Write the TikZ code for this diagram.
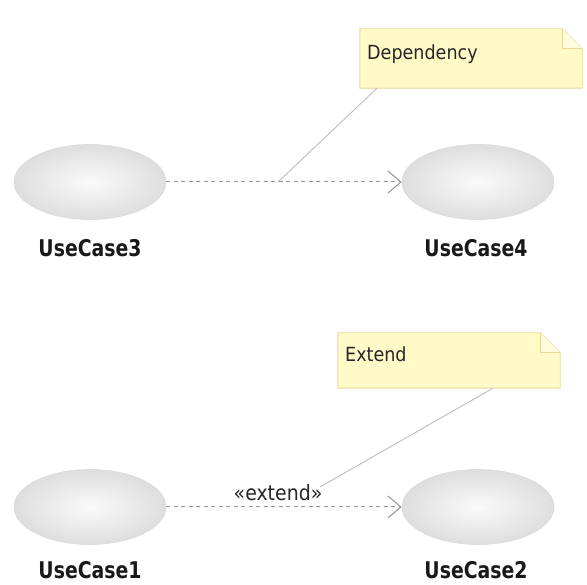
\documentclass[tikz,border=0pt]{standalone}
\usepackage{fontspec}
\usetikzlibrary{shapes.geometric,arrows.meta}
\newfontfamily\lblfont[FakeStretch=0.82]{DejaVu Sans}
\newfontfamily\notefont[FakeStretch=0.9]{DejaVu Sans}
\definecolor{notefill}{RGB}{255,250,200}
\definecolor{notefold}{RGB}{255,252,222}
\definecolor{noteline}{RGB}{236,214,150}
\definecolor{dashcol}{RGB}{150,150,150}
\definecolor{linkcol}{RGB}{184,190,204}
\tikzset{
  usecase/.style={ellipse,minimum width=152pt,minimum height=75pt,inner sep=0pt,
    inner color=gray!4,outer color=gray!26,draw=gray!28,line width=0.6pt},
  uclabel/.style={font=\lblfont\bfseries\fontsize{23}{26}\selectfont,text=black!90,inner sep=0pt,anchor=base},
  notebox/.style={minimum width=222pt,inner sep=0pt},
  notetext/.style={font=\notefont\fontsize{19.5}{22}\selectfont,text=black!85,inner sep=0pt,anchor=base west},
  deparrow/.style={draw=dashcol,line width=1pt,dash pattern=on 4pt off 3.5pt,
    -{Straight Barb[length=13pt,width=22pt,line width=1pt]}},
  notelink/.style={draw=linkcol,line width=0.9pt}
}
\begin{document}
\begin{tikzpicture}[x=1pt,y=-1pt]
\useasboundingbox[fill=white] (0,0) rectangle (587,585);
% use cases
\node[usecase] (uc3) at (90,182) {};
\node[usecase] (uc4) at (478,182) {};
\node[usecase] (uc1) at (90,507) {};
\node[usecase] (uc2) at (478,507) {};
\node[uclabel] (l3) at (90,257) {UseCase3};
\node[uclabel] (l4) at (476,257) {UseCase4};
\node[uclabel] (l1) at (90,578) {UseCase1};
\node[uclabel] (l2) at (476,578) {UseCase2};
% notes
\node[notebox,minimum height=59pt] (dep) at (471,58.5) {};
\node[notebox,minimum height=55pt] (ext) at (449,360.5) {};
\foreach \n in {dep,ext}{
  \filldraw[fill=notefill,draw=noteline,line width=0.9pt]
    (\n.north west) -- ([xshift=-20pt]\n.north east) -- ([yshift=-20pt]\n.north east)
    -- (\n.south east) -- (\n.south west) -- cycle;
  \filldraw[fill=notefold,draw=noteline,line width=0.9pt]
    ([xshift=-20pt]\n.north east) -- ([xshift=-20pt,yshift=-20pt]\n.north east)
    -- ([yshift=-20pt]\n.north east);
}
\node[notetext] (deptext) at (367,60) {Dependency};
\node[notetext] (exttext) at (345,362) {Extend};
% connectors
\draw[deparrow] (uc3.east) -- (uc4.west);
\draw[deparrow] (uc1.east) -- (uc2.west);
\node[font=\notefont\fontsize{21}{24}\selectfont,text=black!85,inner sep=0pt] (extlbl) at (278,493) {«extend»};
\coordinate (dj) at (278,182);
\coordinate (ej) at (320,487);
\draw[notelink] ([xshift=-94pt]dep.south) -- (dj);
\draw[notelink] ([xshift=44pt]ext.south) -- (ej);
\end{tikzpicture}
\end{document}
